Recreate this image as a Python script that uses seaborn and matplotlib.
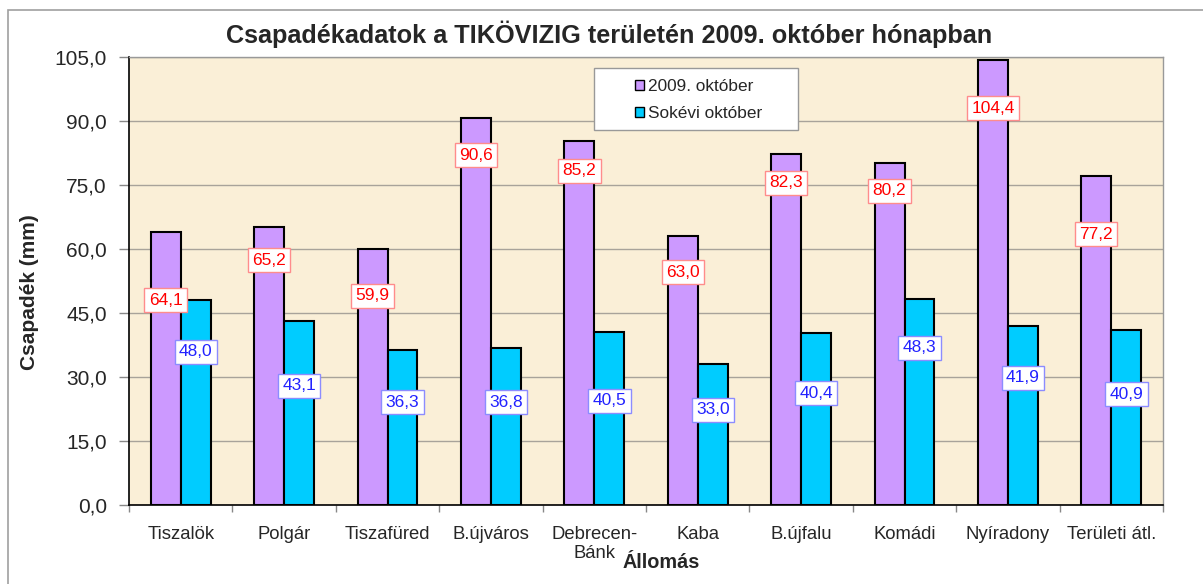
import pandas as pd
import matplotlib
matplotlib.use("Agg")
import matplotlib.pyplot as plt
from matplotlib.patches import Rectangle
from matplotlib.ticker import FixedLocator, FuncFormatter
import seaborn as sns

# ── data ────────────────────────────────────────────────────────────────
STATIONS = ["Tiszalök", "Polgár", "Tiszafüred", "B.újváros", "Debrecen-\nBánk",
            "Kaba", "B.újfalu", "Komádi", "Nyíradony", "Területi átl."]
OCT_2009 = [64.1, 65.2, 59.9, 90.6, 85.2, 63.0, 82.3, 80.2, 104.4, 77.2]
OCT_LONGTERM = [48.0, 43.1, 36.3, 36.8, 40.5, 33.0, 40.4, 48.3, 41.9, 40.9]
SERIES = ["2009. október", "Sokévi október"]
Y_TICKS = [0, 15, 30, 45, 60, 75, 90, 105]

# heights (mm) where the boxed value labels sit, as moved by hand in the original
LABEL_AT_2009 = [48.0, 57.4, 49.0, 82.0, 78.3, 54.6, 75.5, 73.6, 93.0, 63.5]
LABEL_AT_LONGTERM = [35.9, 27.9, 24.1, 24.1, 24.4, 22.3, 26.2, 36.8, 29.8, 26.0]

# ── style ───────────────────────────────────────────────────────────────
PURPLE = "#CC99FF"
CYAN = "#00CCFF"
BG = "#FAEFD7"
GRID = "#A8A39A"

sns.set_style("white")
plt.rcParams["font.family"] = ["Liberation Sans", "DejaVu Sans"]

df = pd.DataFrame({
    "Állomás": STATIONS * 2,
    "value": OCT_2009 + OCT_LONGTERM,
    "series": [SERIES[0]] * len(STATIONS) + [SERIES[1]] * len(STATIONS),
})

fig = plt.figure(figsize=(12.03, 5.84), dpi=100)
ax = fig.add_axes([129 / 1203, 1 - 505 / 584, (1163 - 129) / 1203, (505 - 57) / 584])
ax.set_facecolor(BG)

sns.barplot(data=df, x="Állomás", y="value", hue="series",
            palette=[PURPLE, CYAN], width=0.58, gap=0,
            edgecolor="black", linewidth=1.5, saturation=1, ax=ax, zorder=3)

ax.set_ylim(0, 105)
ax.set_xlim(-0.5, len(STATIONS) - 0.5)
ax.yaxis.set_major_locator(FixedLocator(Y_TICKS))
ax.yaxis.set_major_formatter(FuncFormatter(lambda v, _: f"{v:.1f}".replace(".", ",")))
ax.grid(axis="y", color=GRID, linewidth=1, zorder=0)
ax.set_axisbelow(True)

ax.tick_params(axis="y", labelsize=15, length=7, width=1, color="#888888",
               direction="out", left=True, pad=9)
ax.tick_params(axis="x", which="major", length=0, labelsize=13.3, pad=15)
ax.set_xticks([i + 0.5 for i in range(-1, len(STATIONS))], minor=True)
ax.tick_params(axis="x", which="minor", length=5, width=1, color="#888888",
               direction="out", bottom=True)

for side in ["top", "right"]:
    ax.spines[side].set_color("#999999")
    ax.spines[side].set_linewidth(1)
for side in ["left", "bottom"]:
    ax.spines[side].set_color("black")
    ax.spines[side].set_linewidth(1.2)

ax.set_ylabel("Csapadék (mm)", fontsize=15, fontweight="bold")
ax.yaxis.set_label_coords(-0.087, 0.475)
ax.set_xlabel("Állomás", fontsize=14.3, fontweight="bold")
ax.xaxis.set_label_coords(0.5145, -0.108)

# boxed value labels
for cont, spots, tcol, ecol in [(ax.containers[0], LABEL_AT_2009, "#FF0000", "#FF8C8C"),
                                (ax.containers[1], LABEL_AT_LONGTERM, "#2222FF", "#8C8CFF")]:
    for bar, y in zip(cont, spots):
        h = bar.get_height()
        ax.text(bar.get_x() + bar.get_width() / 2, y,
                f"{h:.1f}".replace(".", ","), ha="center", va="center",
                fontsize=12.5, color=tcol, zorder=5,
                bbox=dict(boxstyle="square,pad=0.25", facecolor="white",
                          edgecolor=ecol, linewidth=1))

# legend: wide white box with the entries set in its middle
ax.add_patch(Rectangle((594 / 1203, 1 - 130 / 584), (798 - 594) / 1203, 62 / 584,
                       transform=fig.transFigure, facecolor="white",
                       edgecolor="#999999", linewidth=1, zorder=6))
leg = ax.legend(loc="center left", bbox_to_anchor=(635 / 1203, 1 - 100 / 584),
                bbox_transform=fig.transFigure, fontsize=12.4, frameon=False,
                handlelength=0.5, handleheight=0.5, handletextpad=0.25,
                borderpad=0, labelspacing=0.72, borderaxespad=0)
for h in leg.legend_handles:
    h.set_edgecolor("black")
    h.set_linewidth(1)
leg.set_zorder(7)

fig.text(0.5067, 1 - 34 / 584, "Csapadékadatok a TIKÖVIZIG területén 2009. október hónapban",
         ha="center", va="center", fontsize=18.2, fontweight="bold")

# chart-area frame
fig.patches.append(Rectangle((8 / 1203, -0.01), 1.0, 1 - 10 / 584 + 0.01,
                             transform=fig.transFigure, fill=False,
                             edgecolor="#A0A0A0", linewidth=1.2))

fig.savefig("out.png", dpi=100)
